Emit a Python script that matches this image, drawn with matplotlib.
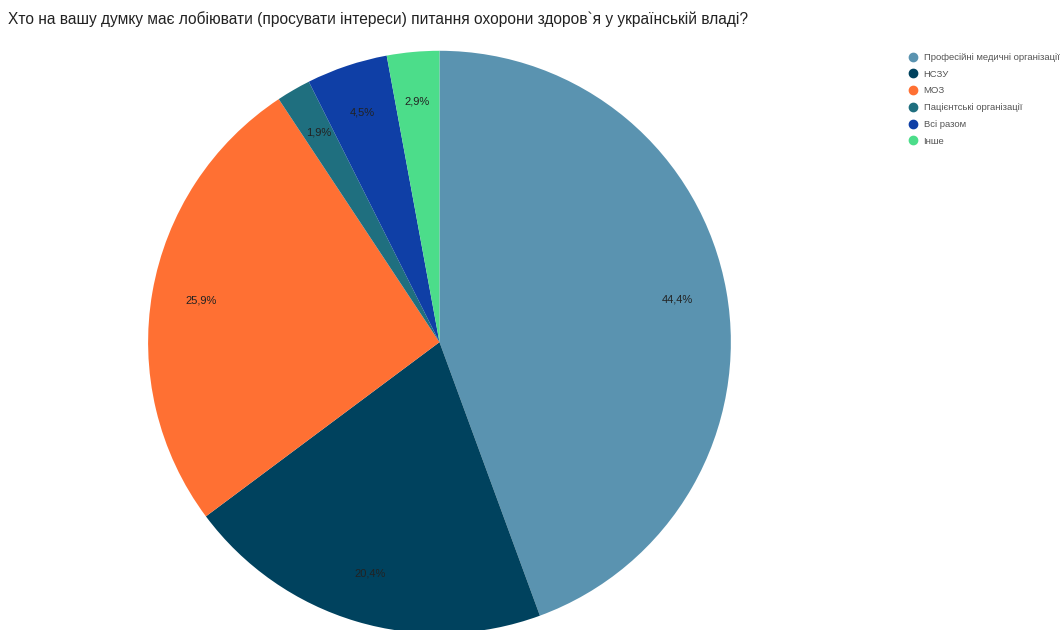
import matplotlib.pyplot as plt
from matplotlib.lines import Line2D

plt.rcParams['font.family'] = ['Liberation Sans', 'DejaVu Sans']

categories = ["Професійні медичні організації", "НСЗУ", "МОЗ",
              "Пацієнтські організації", "Всі разом", "Інше"]
values = [44.4, 20.4, 25.9, 1.9, 4.5, 2.9]
colors = ["#5A93B0", "#00425E", "#FF7033", "#1F6F7F", "#0F3FA6", "#4CDD8A"]

fig = plt.figure(figsize=(10.6, 6.3), dpi=100)
ax = fig.add_axes([0.1396, -0.0056, 0.55, 0.925])

ax.pie(values, colors=colors, startangle=90, counterclock=False,
       autopct=lambda p: f"{p:.1f}%".replace('.', ','), pctdistance=0.83,
       textprops={'fontsize': 8, 'color': '#222222'},
       wedgeprops={'linewidth': 0})
ax.set_xlim(-1, 1)
ax.set_ylim(-1, 1)
ax.set_aspect('equal')

fig.text(0.008, 0.97, "Хто на вашу думку має лобіювати (просувати інтереси) питання охорони здоров`я у українській владі?",
         fontsize=11.2, color='#222222', va='center', ha='left')

handles = [Line2D([], [], marker='o', linestyle='', markersize=6, color=c) for c in colors]
fig.legend(handles, categories, loc='upper left', bbox_to_anchor=(0.857, 0.916),
           frameon=False, fontsize=6.8, labelcolor='#555555', handletextpad=0.6,
           labelspacing=0.82, handlelength=1.0, borderaxespad=0, borderpad=0)

fig.savefig("out.png", dpi=100)
